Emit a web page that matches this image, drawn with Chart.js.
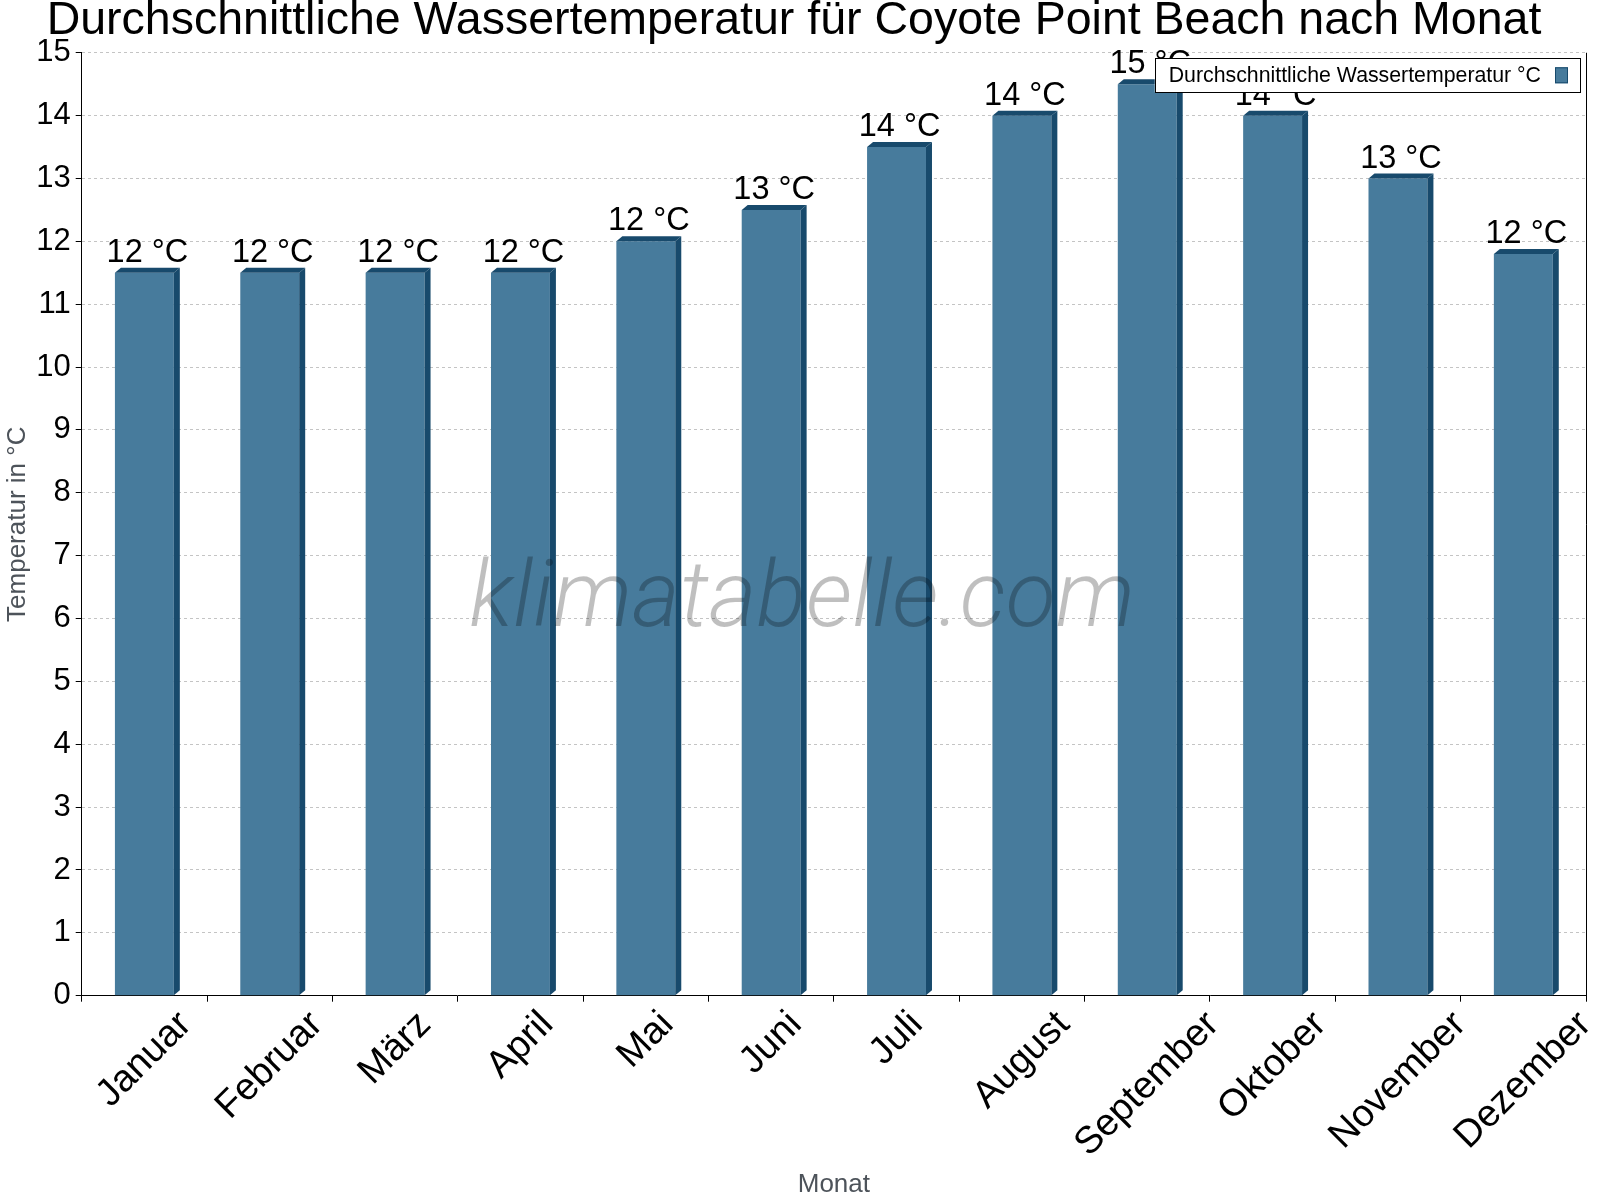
<!DOCTYPE html>
<html lang="de">
<head>
<meta charset="utf-8">
<title>Durchschnittliche Wassertemperatur für Coyote Point Beach nach Monat</title>
<script src="https://cdn.jsdelivr.net/npm/chart.js@4.4.1/dist/chart.umd.min.js"></script>
<style>
  html, body { margin: 0; padding: 0; background: #ffffff; }
  #wrap { width: 1600px; height: 1200px; }
  canvas { display: block; }
</style>
</head>
<body>
<div id="wrap"><canvas id="c" width="1600" height="1200"></canvas></div>
<script>
// ---- data ----
const months = ['Januar', 'Februar', 'März', 'April', 'Mai', 'Juni', 'Juli', 'August', 'September', 'Oktober', 'November', 'Dezember'];
const waterTemp = [11.5, 11.5, 11.5, 11.5, 12.0, 12.5, 13.5, 14.0, 14.5, 14.0, 13.0, 11.8];
const seriesLabel = 'Durchschnittliche Wassertemperatur °C';
const valueUnit = ' °C';
const chartTitle = 'Durchschnittliche Wassertemperatur für Coyote Point Beach nach Monat';
const xAxisTitle = 'Monat';
const yAxisTitle = 'Temperatur in °C';
const yMin = 0, yMax = 15, yStep = 1;
const watermarkText = 'klimatabelle.com';

// ---- styles ----
const FONT = "'Liberation Sans', Arial, Helvetica, sans-serif";
const FRONT = '#477b9c';
const DARK = '#184a6c';
const DEPTH_X = 6, DEPTH_Y = 5;

Chart.defaults.font.family = FONT;
Chart.defaults.color = '#000';

const bar3dPlugin = {
  id: 'bar3d',
  afterDatasetsDraw(chart) {
    const ctx = chart.ctx;
    const meta = chart.getDatasetMeta(0);
    ctx.save();
    ctx.fillStyle = DARK;
    meta.data.forEach(bar => {
      const p = bar.getProps(['x', 'y', 'base', 'width'], true);
      const xL = p.x - p.width / 2, xR = p.x + p.width / 2;
      // top face
      ctx.beginPath();
      ctx.moveTo(xL, p.y);
      ctx.lineTo(xL + DEPTH_X, p.y - DEPTH_Y);
      ctx.lineTo(xR + DEPTH_X, p.y - DEPTH_Y);
      ctx.lineTo(xR, p.y);
      ctx.closePath();
      ctx.fill();
      // side face
      ctx.beginPath();
      ctx.moveTo(xR, p.y);
      ctx.lineTo(xR + DEPTH_X, p.y - DEPTH_Y);
      ctx.lineTo(xR + DEPTH_X, p.base - DEPTH_Y);
      ctx.lineTo(xR, p.base);
      ctx.closePath();
      ctx.fill();
    });
    ctx.restore();
  }
};

const overlayPlugin = {
  id: 'overlay',
  afterDraw(chart) {
    const ctx = chart.ctx;
    const area = chart.chartArea;
    const xs = chart.scales.x;
    const ds = chart.data.datasets[0];
    const meta = chart.getDatasetMeta(0);

    // right frame line
    ctx.save();
    ctx.strokeStyle = '#000';
    ctx.lineWidth = 1;
    ctx.beginPath();
    ctx.moveTo(Math.round(area.right) + 0.5, area.top);
    ctx.lineTo(Math.round(area.right) + 0.5, area.bottom);
    ctx.stroke();
    ctx.restore();

    // rotated category labels (centered under each tick, top-aligned)
    ctx.save();
    const lf = 38;
    ctx.font = lf + 'px ' + FONT;
    ctx.fillStyle = '#000';
    ctx.textAlign = 'center';
    ctx.textBaseline = 'middle';
    chart.data.labels.forEach((lab, i) => {
      const x = xs.getPixelForTick(i);
      const w = ctx.measureText(lab).width;
      const h = lf * 0.74;
      const boxH = (w + h) * Math.SQRT1_2;
      const top = area.bottom + 13;
      ctx.save();
      ctx.translate(x, top + boxH / 2);
      ctx.rotate(-Math.PI / 4);
      ctx.fillText(lab, 0, 0);
      ctx.restore();
    });
    ctx.restore();

    // watermark
    ctx.save();
    ctx.font = 'italic 300 92px Roboto, ' + FONT;
    ctx.fillStyle = 'rgba(0,0,0,0.25)';
    ctx.textAlign = 'center';
    ctx.textBaseline = 'alphabetic';
    ctx.fillText(watermarkText, chart.width / 2 + 2, 626);
    ctx.restore();

    // value labels
    ctx.save();
    ctx.font = '32.5px ' + FONT;
    ctx.fillStyle = '#000';
    ctx.textAlign = 'center';
    ctx.textBaseline = 'alphabetic';
    meta.data.forEach((bar, i) => {
      const p = bar.getProps(['x', 'y'], true);
      const v = ds.data[i];
      ctx.fillText(Math.round(v) + valueUnit, p.x + DEPTH_X / 2, p.y - DEPTH_Y - 6);
    });
    ctx.restore();

    // legend box (text left, swatch right)
    ctx.save();
    ctx.font = '21.3px ' + FONT;
    const tw = ctx.measureText(ds.label).width;
    const boxR = area.right - 6;
    const boxT = area.top + 5.5;
    const boxB = boxT + 34;
    const swW = 13, swH = 16;
    const swX = boxR - 12 - swW;
    const textR = swX - 14;
    const textL = textR - tw;
    const boxL = textL - 14;
    ctx.fillStyle = '#fff';
    ctx.fillRect(boxL, boxT, boxR - boxL, boxB - boxT);
    ctx.strokeStyle = '#000';
    ctx.lineWidth = 1;
    ctx.strokeRect(Math.round(boxL) + 0.5, Math.round(boxT) + 0.5, Math.round(boxR - boxL), Math.round(boxB - boxT));
    ctx.fillStyle = '#000';
    ctx.textAlign = 'left';
    ctx.textBaseline = 'middle';
    ctx.fillText(ds.label, textL, (boxT + boxB) / 2 + 1);
    const swY = (boxT + boxB) / 2 - swH / 2;
    ctx.fillStyle = ds.backgroundColor;
    ctx.fillRect(swX, swY, swW, swH);
    ctx.strokeStyle = DARK;
    ctx.strokeRect(swX + 0.5, swY + 0.5, swW - 1, swH - 1);
    ctx.restore();
  }
};

new Chart(document.getElementById('c'), {
  type: 'bar',
  data: {
    labels: months,
    datasets: [{
      label: seriesLabel,
      data: waterTemp,
      backgroundColor: FRONT,
      borderWidth: 0,
      barPercentage: 0.47,
      categoryPercentage: 1.0
    }]
  },
  options: {
    responsive: false,
    devicePixelRatio: 1,
    animation: false,
    layout: { padding: { left: 2, right: 14, top: 0, bottom: 0 } },
    plugins: {
      legend: { display: false },
      tooltip: { enabled: false },
      title: {
        display: true,
        text: chartTitle,
        color: '#000',
        font: { size: 46.5, family: FONT, weight: 'normal', lineHeight: 0.92 },
        padding: { top: 0, bottom: 10 }
      }
    },
    scales: {
      x: {
        type: 'category',
        offset: true,
        grid: {
          display: true,
          offset: true,
          drawOnChartArea: false,
          drawTicks: true,
          tickLength: 6,
          tickColor: '#000',
          tickWidth: 1
        },
        border: { display: true, color: '#000', width: 1 },
        ticks: { display: false },
        title: {
          display: true,
          text: xAxisTitle,
          color: '#4d535a',
          font: { size: 26, family: FONT, lineHeight: 1.2 },
          padding: { top: 0, bottom: 0 }
        },
        afterFit(scale) { scale.height = 204.3; }
      },
      y: {
        min: yMin,
        max: yMax,
        grid: {
          display: true,
          color: '#c4c4c4',
          lineWidth: 1,
          drawTicks: true,
          tickLength: 6,
          tickColor: '#000',
          tickWidth: 1,
          tickBorderDash: []
        },
        border: { display: true, color: '#000', width: 1, dash: [3, 3] },
        ticks: {
          stepSize: yStep,
          padding: 5,
          color: '#000',
          font: { size: 31, family: FONT }
        },
        title: {
          display: true,
          text: yAxisTitle,
          color: '#4d535a',
          font: { size: 26, family: FONT, lineHeight: 1.2 },
          padding: { top: 0, bottom: 0 }
        },
        afterFit(scale) { scale.width = 79.7; }
      }
    }
  },
  plugins: [bar3dPlugin, overlayPlugin]
});
</script>
</body>
</html>
